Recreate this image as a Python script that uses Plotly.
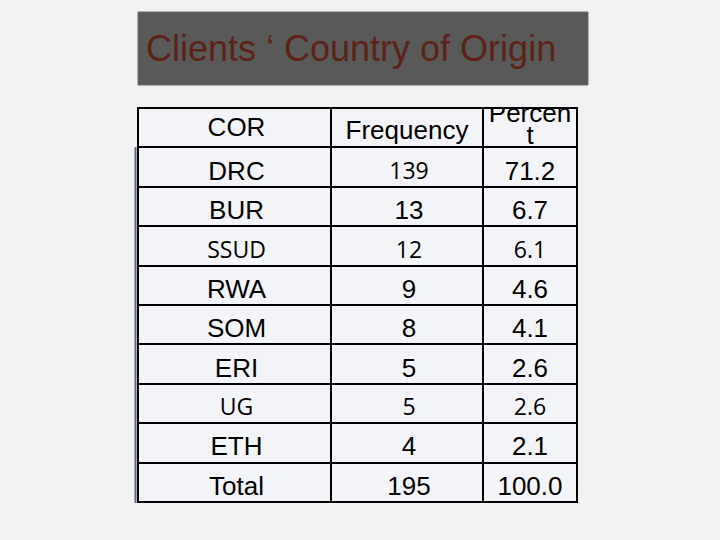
import plotly.graph_objects as go

# table contents
header = ["COR", "Frequency", "Percen", "t"]   # "Percent" wraps in its narrow cell
countries = ["DRC", "BUR", "SSUD", "RWA", "SOM", "ERI", "UG", "ETH", "Total"]
frequency = ["139", "13", "12", "9", "8", "5", "5", "4", "195"]
percent = ["71.2", "6.7", "6.1", "4.6", "4.1", "2.6", "2.6", "2.1", "100.0"]

# cells typed in the other (calibri-ish) font on the slide, per column
alt_cells = [(2, 6), (0, 2, 6), (2, 6)]

arial = "Liberation Sans, Arial"
calib = "Open Sans, Noto Sans"

# column edges in pixels, relative to table left (138px)
col_edges = [0, 193, 345, 439]
col_mid = [(col_edges[i] + col_edges[i + 1]) / 2 for i in range(3)]
nrows = len(countries) + 1
px_row = (502 - 108) / nrows

fig = go.Figure()

# cell backgrounds, black plot bg shows through the gaps as grid lines
fig.add_trace(go.Heatmap(
    z=[[1, 1, 1] for _ in range(nrows)],
    x=col_edges,
    y=list(range(nrows)),
    colorscale=[[0, "#f3f4f8"], [1, "#f3f4f8"]],
    showscale=False, xgap=2, ygap=2, hoverinfo="skip",
))

# header text
fig.add_trace(go.Scatter(
    x=[col_mid[0] + 2, col_mid[1], col_mid[2], col_mid[2]],
    y=[0.05, 0.12, -0.3, 0.25],
    mode="text", text=header, textposition="middle center",
    textfont=dict(family=arial, size=26, color="black"),
    hoverinfo="skip", showlegend=False,
))

# body text
for ci, col in enumerate([countries, frequency, percent]):
    fams = [calib if i in alt_cells[ci] else arial for i in range(len(col))]
    sizes = [23 if i in alt_cells[ci] else 26 for i in range(len(col))]
    fig.add_trace(go.Scatter(
        x=[col_mid[ci] + (2 if ci < 2 else 0)] * len(col),
        y=[i + 1 + 0.15 for i in range(len(col))],
        mode="text", text=col, textposition="middle center",
        textfont=dict(family=fams, size=sizes, color="black"),
        hoverinfo="skip", showlegend=False,
    ))

eps = 1 / px_row
fig.update_xaxes(range=[-1, 440], domain=[137/720, 578/720], visible=False, fixedrange=True)
fig.update_yaxes(range=[nrows - 0.5 + eps, -0.5 - eps], domain=[1 - 503/540, 1 - 107/540],
                 visible=False, fixedrange=True)

# blue-grey edge down the left side of the body rows
fig.add_shape(type="line", xref="paper", yref="paper",
              x0=135.5/720, x1=135.5/720, y0=1 - 147/540, y1=1 - 503/540,
              line=dict(color="#5d6781", width=2))

# title box
fig.add_shape(type="rect", xref="paper", yref="paper",
              x0=138/720, x1=588/720, y0=1 - 85/540, y1=1 - 12/540,
              fillcolor="#595959", line=dict(color="#6a6a6a", width=1), layer="below")
fig.add_annotation(text="Clients \u2018 Country of Origin", xref="paper", yref="paper",
                   x=144/720, y=1 - 48/540, xanchor="left", yanchor="middle",
                   showarrow=False, font=dict(family=arial, size=36, color="#5c2216"))

fig.update_layout(width=720, height=540, margin=dict(l=0, r=0, t=0, b=0),
                  paper_bgcolor="#f2f2f2", plot_bgcolor="black")
fig.write_html("out.html", config={"displayModeBar": False},
               post_script="document.body.style.margin='0px';")
